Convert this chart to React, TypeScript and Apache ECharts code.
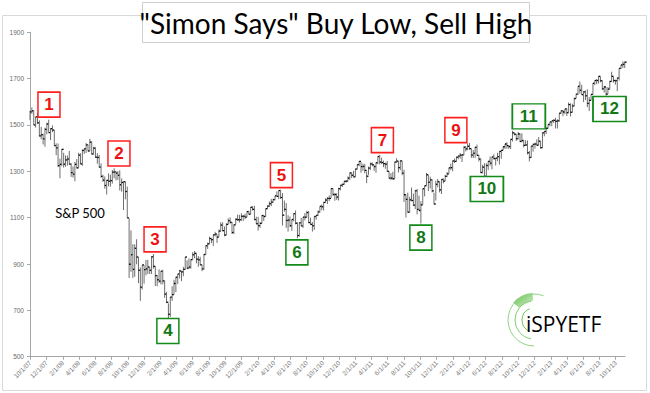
import React, { useEffect, useRef } from 'react';
import * as echarts from 'echarts';

// Weekly S&P 500 bars (week starting Monday): [close, high, low]
const weekStart = '2007-10-01';
const hlc2007: number[][] = [
  [1557,1561,1521],[1561,1576,1548],[1500,1563,1500],[1535,1535,1489],[1509,1552,1505],[1453,1520,1450],[1458,1492,1438],
  [1440,1463,1416],[1481,1488,1406],[1504,1510,1460],[1467,1523,1467],[1484,1485,1435],[1478,1498,1469],[1411,1478,1411],
];
const hlc2008: number[][] = [
  [1401,1421,1370],[1325,1420,1318],[1330,1355,1270],[1395,1396,1322],[1331,1380,1316],[1349,1368,1320],[1353,1368,1325],
  [1331,1388,1330],[1294,1335,1276],[1288,1321,1273],[1330,1341,1257],[1315,1353,1312],[1370,1380,1315],[1332,1378,1331],
  [1390,1395,1324],[1397,1399,1375],[1414,1422,1379],[1388,1416,1386],[1426,1440,1387],[1375,1430,1373],[1400,1406,1373],
  [1361,1404,1358],[1360,1378,1333],[1318,1371,1316],[1278,1334,1272],[1262,1285,1255],[1239,1278,1225],[1261,1263,1200],
  [1257,1291,1235],[1260,1285,1234],[1296,1306,1247],[1298,1313,1270],[1292,1300,1261],[1283,1301,1263],[1242,1304,1217],
  [1252,1269,1212],[1255,1255,1133],[1213,1255,1179],[1099,1234,1099],[899,1097,840],[940,1045,866],[877,985,840],
  [968,985,845],[930,1007,899],[873,930,818],[800,885,741],[896,896,790],[876,895,815],[879,918,851],[887,918,857],
  [873,887,857],[931,934,857],
];
const hlc2009: number[][] = [
  [890,943,880],[850,890,805],[832,852,804],[826,877,819],[869,870,812],[827,875,812],[770,828,754],[735,780,731],
  [683,730,667],[757,758,672],[768,804,741],[816,832,768],[843,845,779],[857,857,814],[870,875,838],[866,869,826],
  [877,888,847],[930,930,875],[882,916,878],[887,924,879],[919,920,880],[940,951,918],[946,956,925],[921,946,903],
  [918,934,888],[896,931,896],[879,897,869],[941,943,875],[979,980,940],[987,993,965],[1010,1018,986],[1005,1013,990],
  [1026,1027,978],[1029,1039,1019],[1016,1028,991],[1042,1049,1017],[1068,1080,1041],[1044,1080,1041],[1025,1062,1020],
  [1071,1076,1025],[1087,1097,1071],[1080,1101,1074],[1036,1082,1030],[1069,1071,1029],[1093,1097,1070],[1091,1113,1085],
  [1091,1112,1079],[1106,1119,1086],[1106,1112,1086],[1102,1117,1093],[1126,1128,1102],[1115,1130,1114],
];
const hlc2010: number[][] = [
  [1145,1146,1116],[1136,1150,1131],[1092,1151,1090],[1074,1104,1071],[1066,1104,1044],[1075,1081,1056],[1109,1112,1075],
  [1105,1112,1086],[1139,1139,1105],[1150,1153,1136],[1160,1170,1147],[1167,1181,1150],[1178,1182,1165],[1194,1195,1175],
  [1192,1213,1190],[1217,1217,1180],[1187,1220,1181],[1111,1206,1066],[1136,1174,1126],[1088,1163,1056],[1089,1110,1040],
  [1065,1105,1060],[1092,1093,1043],[1117,1119,1084],[1076,1131,1071],[1023,1080,1011],[1078,1078,1018],[1065,1099,1063],
  [1102,1103,1056],[1102,1120,1088],[1122,1130,1101],[1079,1129,1076],[1071,1100,1069],[1065,1081,1040],[1105,1105,1047],
  [1110,1110,1091],[1125,1131,1107],[1149,1149,1122],[1147,1157,1132],[1166,1167,1131],[1176,1184,1163],[1183,1189,1159],
  [1183,1196,1171],[1225,1227,1185],[1200,1226,1194],[1200,1207,1173],[1189,1205,1177],[1225,1229,1174],[1240,1241,1218],
  [1244,1247,1232],[1257,1259,1242],[1258,1262,1251],
];
const hlc2011: number[][] = [
  [1271,1278,1257],[1293,1294,1263],[1283,1296,1271],[1276,1302,1275],[1310,1311,1276],[1329,1330,1309],[1343,1344,1322],
  [1320,1340,1294],[1321,1333,1302],[1304,1332,1291],[1279,1300,1249],[1314,1320,1285],[1332,1338,1305],[1328,1339,1322],
  [1320,1328,1302],[1337,1339,1294],[1364,1365,1331],[1340,1371,1330],[1338,1359,1332],[1333,1346,1318],[1331,1338,1311],
  [1300,1345,1298],[1271,1300,1268],[1271,1292,1262],[1268,1298,1263],[1340,1341,1268],[1344,1356,1336],[1316,1344,1295],
  [1345,1347,1305],[1292,1345,1283],[1199,1307,1168],[1179,1199,1101],[1124,1208,1121],[1177,1190,1121],[1174,1230,1171],
  [1154,1204,1150],[1216,1220,1137],[1136,1224,1114],[1131,1195,1130],[1155,1171,1075],[1225,1225,1155],[1238,1238,1192],
  [1285,1293,1238],[1253,1285,1215],[1263,1277,1226],[1216,1266,1209],[1159,1208,1158],[1244,1260,1174],[1255,1267,1231],
  [1220,1256,1209],[1265,1266,1202],[1258,1269,1248],
];
const hlc2012: number[][] = [
  [1278,1285,1258],[1289,1297,1275],[1315,1316,1290],[1316,1333,1306],[1345,1346,1300],[1343,1355,1336],[1361,1363,1340],
  [1366,1368,1352],[1370,1379,1355],[1371,1375,1340],[1404,1408,1370],[1397,1409,1386],[1408,1420,1391],[1398,1422,1393],
  [1370,1397,1358],[1378,1392,1357],[1403,1406,1358],[1369,1415,1367],[1353,1371,1343],[1295,1355,1292],[1318,1328,1291],
  [1278,1335,1277],[1325,1335,1267],[1343,1344,1306],[1335,1364,1324],[1362,1363,1309],[1355,1374,1351],[1357,1357,1325],
  [1363,1380,1344],[1386,1386,1329],[1391,1392,1354],[1406,1407,1391],[1418,1419,1397],[1411,1426,1398],[1407,1413,1397],
  [1438,1438,1396],[1466,1475,1429],[1460,1467,1455],[1441,1461,1431],[1461,1470,1437],[1429,1464,1425],[1433,1464,1425],
  [1412,1433,1403],[1414,1434,1410],[1380,1433,1373],[1360,1388,1343],[1409,1410,1358],[1416,1420,1385],[1418,1424,1398],
  [1413,1438,1410],[1430,1448,1413],[1402,1430,1398],
];
const hlc2013: number[][] = [
  [1466,1467,1400],[1472,1473,1451],[1486,1486,1461],[1503,1503,1485],[1513,1514,1494],[1518,1518,1495],[1520,1525,1509],
  [1516,1531,1485],[1518,1525,1485],[1551,1552,1514],[1561,1564,1549],[1556,1564,1538],[1569,1570,1547],[1553,1573,1539],
  [1588,1597,1552],[1555,1593,1537],[1582,1592,1554],[1614,1618,1581],[1633,1635,1614],[1667,1667,1629],[1650,1687,1635],
  [1631,1674,1630],[1643,1646,1599],[1626,1649,1608],[1593,1654,1577],[1606,1620,1560],[1632,1632,1605],[1680,1680,1632],
  [1692,1693,1672],[1692,1698,1676],[1710,1710,1679],[1691,1709,1684],[1656,1692,1652],[1664,1669,1640],[1633,1663,1627],
  [1655,1664,1633],[1688,1690,1654],[1710,1730,1685],[1692,1709,1683],[1691,1695,1674],[1703,1704,1646],[1744,1745,1692],
  [1759,1760,1741],[1762,1775,1746],[1771,1774,1746],
];

const xTickLabels = [
  '10/1/07','12/1/07','2/1/08','4/1/08','6/1/08','8/1/08','10/1/08','12/1/08','2/1/09','4/1/09','6/1/09','8/1/09',
  '10/1/09','12/1/09','2/1/10','4/1/10','6/1/10','8/1/10','10/1/10','12/1/10','2/1/11','4/1/11','6/1/11','8/1/11',
  '10/1/11','12/1/11','2/1/12','4/1/12','6/1/12','8/1/12','10/1/12','12/1/12','2/1/13','4/1/13','6/1/13','8/1/13','10/1/13',
];
const axisEnd = '2013-11-05';
const yTickValues = [500, 700, 900, 1100, 1300, 1500, 1700, 1900];

// "Simon Says" signal boxes
const boxLabels = ['1','2','3','4','5','6','7','8','9','10','11','12'];
const boxDates = ['2007-12-11','2008-08-29','2009-01-11','2009-02-28','2010-04-29','2010-06-26','2011-05-12','2011-10-03','2012-02-11','2012-06-06','2012-11-10','2013-09-08'];
const boxValues = [1588, 1377, 1006, 611, 1284, 950, 1435, 1014, 1478, 1224, 1537, 1569];
const boxSignals = ['sell','sell','sell','buy','sell','buy','sell','buy','sell','buy','buy','buy'];

const DAY = 86400000;
const isoToUTC = (s: string) => {
  const [y, m, d] = s.split('-').map(Number);
  return Date.UTC(y, m - 1, d);
};
const labelToUTC = (s: string) => {
  const [m, d, y] = s.split('/').map(Number);
  return Date.UTC(2000 + y, m - 1, d);
};

export default function App() {
  const ref = useRef<HTMLDivElement>(null);
  useEffect(() => {
    if (!ref.current) return;
    const chart = echarts.init(ref.current, undefined, { renderer: 'svg' });
    const all = [...hlc2007, ...hlc2008, ...hlc2009, ...hlc2010, ...hlc2011, ...hlc2012, ...hlc2013];
    const t0 = isoToUTC(weekStart);
    const barData = all.map((r, i) => [t0 + i * 7 * DAY, r[0], r[1], r[2]]);
    const ticks = xTickLabels.map(labelToUTC);

    const boxData = boxLabels.map((lab, i) => {
      const sell = boxSignals[i] === 'sell';
      const col = sell ? '#ff1f1f' : '#138a1a';
      const txt = sell ? '#ee1111' : '#127816';
      return {
        value: [isoToUTC(boxDates[i]), boxValues[i]],
        name: lab,
        symbolSize: lab.length > 1 ? [33, 25] : [22, 25],
        itemStyle: { color: '#ffffff', borderColor: col, borderWidth: 1.6, opacity: 1 },
        label: { color: txt, fontWeight: 'bold' },
      };
    });

    const option: any = {
      animation: false,
      backgroundColor: '#ffffff',
      grid: { left: 30, right: 25, top: 32.3, bottom: 36.3, containLabel: false },
      xAxis: {
        type: 'value',
        min: t0,
        max: isoToUTC(axisEnd),
        splitLine: { show: false },
        axisLine: { onZero: false, lineStyle: { color: '#a6a6a6', width: 1 } },
        axisTick: { show: true, customValues: ticks, length: 3, lineStyle: { color: '#a6a6a6' } },
        axisLabel: {
          customValues: ticks,
          rotate: 45,
          margin: 5,
          fontSize: 6.5,
          color: '#7a7a7a',
          fontFamily: 'Liberation Sans',
          formatter: (v: number) => {
            const d = new Date(v);
            return `${d.getUTCMonth() + 1}/${d.getUTCDate()}/${String(d.getUTCFullYear()).slice(2)}`;
          },
        },
      },
      yAxis: {
        type: 'value',
        min: 500,
        max: 1900,
        splitLine: { show: false },
        axisLine: { show: true, lineStyle: { color: '#a6a6a6', width: 1 } },
        axisTick: { show: true, customValues: yTickValues, length: 3, lineStyle: { color: '#a6a6a6' } },
        axisLabel: {
          customValues: yTickValues,
          margin: 6,
          fontSize: 6.5,
          color: '#6a6a6a',
          fontFamily: 'Liberation Sans',
          formatter: (v: number) => String(v),
        },
      },
      series: [
        {
          type: 'custom',
          data: barData,
          encode: { x: 0, y: [1, 2, 3] },
          clip: false,
          renderItem: (params: any, api: any) => {
            const x = api.value(0);
            const hi = api.coord([x, api.value(2)]);
            const lo = api.coord([x, api.value(3)]);
            const cl = api.coord([x, api.value(1)]);
            return {
              type: 'group',
              children: [
                { type: 'line', shape: { x1: hi[0], y1: hi[1], x2: lo[0], y2: lo[1] }, style: { stroke: '#6e6e6e', lineWidth: 1 } },
                { type: 'line', shape: { x1: cl[0], y1: cl[1], x2: cl[0] + 1.8, y2: cl[1] }, style: { stroke: '#000000', lineWidth: 1.3 } },
              ],
            };
          },
        },
        {
          type: 'scatter',
          silent: true,
          symbol: 'rect',
          z: 5,
          itemStyle: { opacity: 1 },
          emphasis: { disabled: true },
          data: boxData,
          label: {
            show: true,
            position: 'inside',
            formatter: (p: any) => p.name,
            fontSize: 17,
            fontWeight: 'bold',
            fontFamily: 'Liberation Sans',
          },
        },
      ],
      graphic: [
        { type: 'rect', z: -10, silent: true, shape: { x: 2.5, y: 15.5, width: 644, height: 375 }, style: { fill: 'none', stroke: '#d9d9d9', lineWidth: 1 } },
        { type: 'rect', z: 10, silent: true, shape: { x: 142.5, y: 2.5, width: 387, height: 40 }, style: { fill: '#ffffff', stroke: '#cfcfcf', lineWidth: 1 } },
        { type: 'text', z: 11, silent: true, x: 336, y: 23, style: { text: '"Simon Says" Buy Low, Sell High', fill: '#000000', font: '28px Lato', align: 'center', verticalAlign: 'middle' } },
        { type: 'text', z: 11, silent: true, x: 80, y: 213, style: { text: 'S&P 500', fill: '#000000', font: '13px Lato', align: 'center', verticalAlign: 'middle' } },
        // iSPYETF logo
        { type: 'sector', z: 11, silent: true, shape: { cx: 534, cy: 320, r0: 19, r: 27, startAngle: -2.45, endAngle: -1.62, clockwise: true },
          style: { fill: new echarts.graphic.LinearGradient(0, 0, 1, 1, [{ offset: 0, color: '#3fae2a' }, { offset: 1, color: '#d6f0c8' }]), opacity: 0.85 } },
        { type: 'arc', z: 12, silent: true, shape: { cx: 534, cy: 320, r: 26, startAngle: Math.PI * 0.5, endAngle: Math.PI * 1.62, clockwise: true }, style: { stroke: '#8ed67e', lineWidth: 1, fill: 'none' } },
        { type: 'arc', z: 12, silent: true, shape: { cx: 534, cy: 320, r: 19, startAngle: Math.PI * 0.55, endAngle: Math.PI * 1.45, clockwise: true }, style: { stroke: '#7fcf6f', lineWidth: 1, fill: 'none' } },
        { type: 'arc', z: 12, silent: true, shape: { cx: 534, cy: 320, r: 12, startAngle: Math.PI * 0.62, endAngle: Math.PI * 1.38, clockwise: true }, style: { stroke: '#6cc45c', lineWidth: 1, fill: 'none' } },
        { type: 'text', z: 13, silent: true, x: 526, y: 324, style: {
          text: '{a|i}{b|SPY}{c|ETF}', align: 'left', verticalAlign: 'middle',
          rich: {
            a: { fontSize: 21, fontFamily: 'Open Sans', color: '#2b3650' },
            b: { fontSize: 21, fontFamily: 'Open Sans', color: '#2b3650' },
            c: { fontSize: 21, fontFamily: 'Open Sans', color: '#6d6e70' },
          } } },
      ],
    };
    chart.setOption(option);
    return () => chart.dispose();
  }, []);
  return <div ref={ref} style={{ position: 'fixed', left: 0, top: 0, width: 650, height: 393, background: '#fff' }} />;
}
